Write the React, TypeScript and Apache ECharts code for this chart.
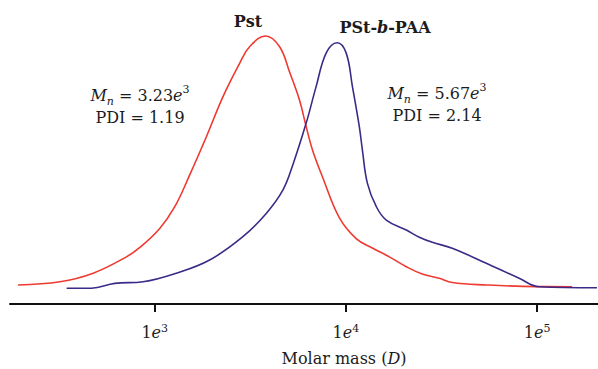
import React, { useEffect, useRef } from "react";
import * as echarts from "echarts";

// log10 of molar mass (x) and normalised detector intensity (y)
const pstLogM = [2.285, 2.504, 2.678, 2.852, 2.922, 3.026, 3.104, 3.183, 3.27, 3.357, 3.444, 3.496, 3.58, 3.653, 3.705, 3.757, 3.792, 3.825, 3.877, 3.966, 4.055, 4.138, 4.227, 4.316, 4.399, 4.488, 4.556, 4.734, 4.995, 5.183];
const pstSignal = [7.1, 8.3, 11.5, 17.6, 21.1, 28.2, 36.2, 48.2, 62.4, 77.4, 89.8, 96.0, 100.0, 96.0, 86.6, 76.1, 66.2, 57.5, 47.5, 32.1, 24.3, 20.9, 17.6, 13.9, 11.2, 9.6, 8.0, 7.1, 6.5, 6.46];

const paaLogM = [2.539, 2.669, 2.791, 2.939, 3.113, 3.287, 3.461, 3.583, 3.67, 3.722, 3.792, 3.844, 3.897, 3.954, 4.001, 4.034, 4.07, 4.086, 4.112, 4.159, 4.211, 4.316, 4.384, 4.452, 4.556, 4.734, 4.906, 5.01, 5.313];
const paaSignal = [5.9, 5.9, 7.7, 8.3, 11.5, 16.4, 25.1, 33.8, 42.5, 51.9, 67.5, 81.1, 93.7, 97.5, 93.7, 81.1, 66.2, 57.5, 45.1, 36.3, 31.3, 27.6, 24.9, 23.0, 20.8, 15.2, 9.6, 6.46, 6.08];

const tickValues = [3, 4, 5];
const seriesNames = ["Pst", "PSt-b-PAA"];

const RED = "#ee3a30";
const BLUE = "#3d2a88";
const INK = "#1c1c1c";
const FONT = "'DejaVu Serif', serif";

export default function App() {
  const ref = useRef<HTMLDivElement>(null);
  useEffect(() => {
    if (!ref.current) return;
    const chart = echarts.init(ref.current, undefined, { renderer: "svg" });
    const mathRich = (color: string, lh: number) => ({
      r: { fontFamily: FONT, fontSize: 16, color, lineHeight: lh },
      i: { fontFamily: FONT, fontSize: 16, fontStyle: "italic", color, lineHeight: lh },
      sub: { fontFamily: FONT, fontSize: 11, fontStyle: "italic", color, verticalAlign: "bottom", lineHeight: lh, padding: [0, 0, -1, 0] },
      sup: { fontFamily: FONT, fontSize: 11, color, verticalAlign: "top", lineHeight: lh, padding: [0, 0, 0, 0] },
    });
    const textEl = (x: number, y: number, text: string, rich: any) => ({
      type: "text",
      x,
      y,
      style: { text, rich, textAlign: "center", textVerticalAlign: "middle", fill: INK, font: `16px ${FONT}` },
    });
    chart.setOption({
      animation: false,
      grid: { left: 10, right: 0, top: 22.6, bottom: 65, containLabel: false },
      xAxis: {
        type: "value",
        min: 2.2428,
        max: 5.3185,
        axisLine: { show: true, onZero: false, lineStyle: { color: "#111", width: 2 } },
        axisTick: { show: true, customValues: tickValues, length: 8, lineStyle: { color: "#111", width: 2 } },
        axisLabel: {
          customValues: tickValues,
          margin: 19,
          formatter: (v: number) => `{r|1}{i|e}{sup|${v}}`,
          rich: mathRich(INK, 18),
        },
        splitLine: { show: false },
      },
      yAxis: { type: "value", min: 0, max: 105, show: false },
      series: [
        {
          name: seriesNames[0],
          type: "line",
          data: pstLogM.map((x, k) => [x, pstSignal[k]]),
          showSymbol: false,
          smooth: 0.4,
          lineStyle: { color: RED, width: 1.6 },
        },
        {
          name: seriesNames[1],
          type: "line",
          data: paaLogM.map((x, k) => [x, paaSignal[k]]),
          showSymbol: false,
          smooth: 0.4,
          lineStyle: { color: BLUE, width: 1.6 },
        },
      ],
      graphic: [
        textEl(248, 21, "{b|Pst}", { b: { fontFamily: FONT, fontSize: 16, fontWeight: "bold", color: RED } }),
        textEl(385, 27, "{b|PSt-}{bi|b}{b|-PAA}", {
          b: { fontFamily: FONT, fontSize: 16, fontWeight: "bold", color: BLUE },
          bi: { fontFamily: FONT, fontSize: 16, fontWeight: "bold", fontStyle: "italic", color: BLUE },
        }),
        textEl(140, 106, "{i|M}{sub|n}{r| = 3.23}{i|e}{sup|3}\n{r|PDI = 1.19}", mathRich(INK, 22)),
        textEl(437, 104, "{i|M}{sub|n}{r| = 5.67}{i|e}{sup|3}\n{r|PDI = 2.14}", mathRich(INK, 22)),
        textEl(344, 358, "{r|Molar mass (}{i|D}{r|)}", mathRich(INK, 18)),
      ],
    });
    return () => chart.dispose();
  }, []);
  return <div ref={ref} style={{ position: "absolute", left: 0, top: 0, width: 598, height: 369 }} />;
}
